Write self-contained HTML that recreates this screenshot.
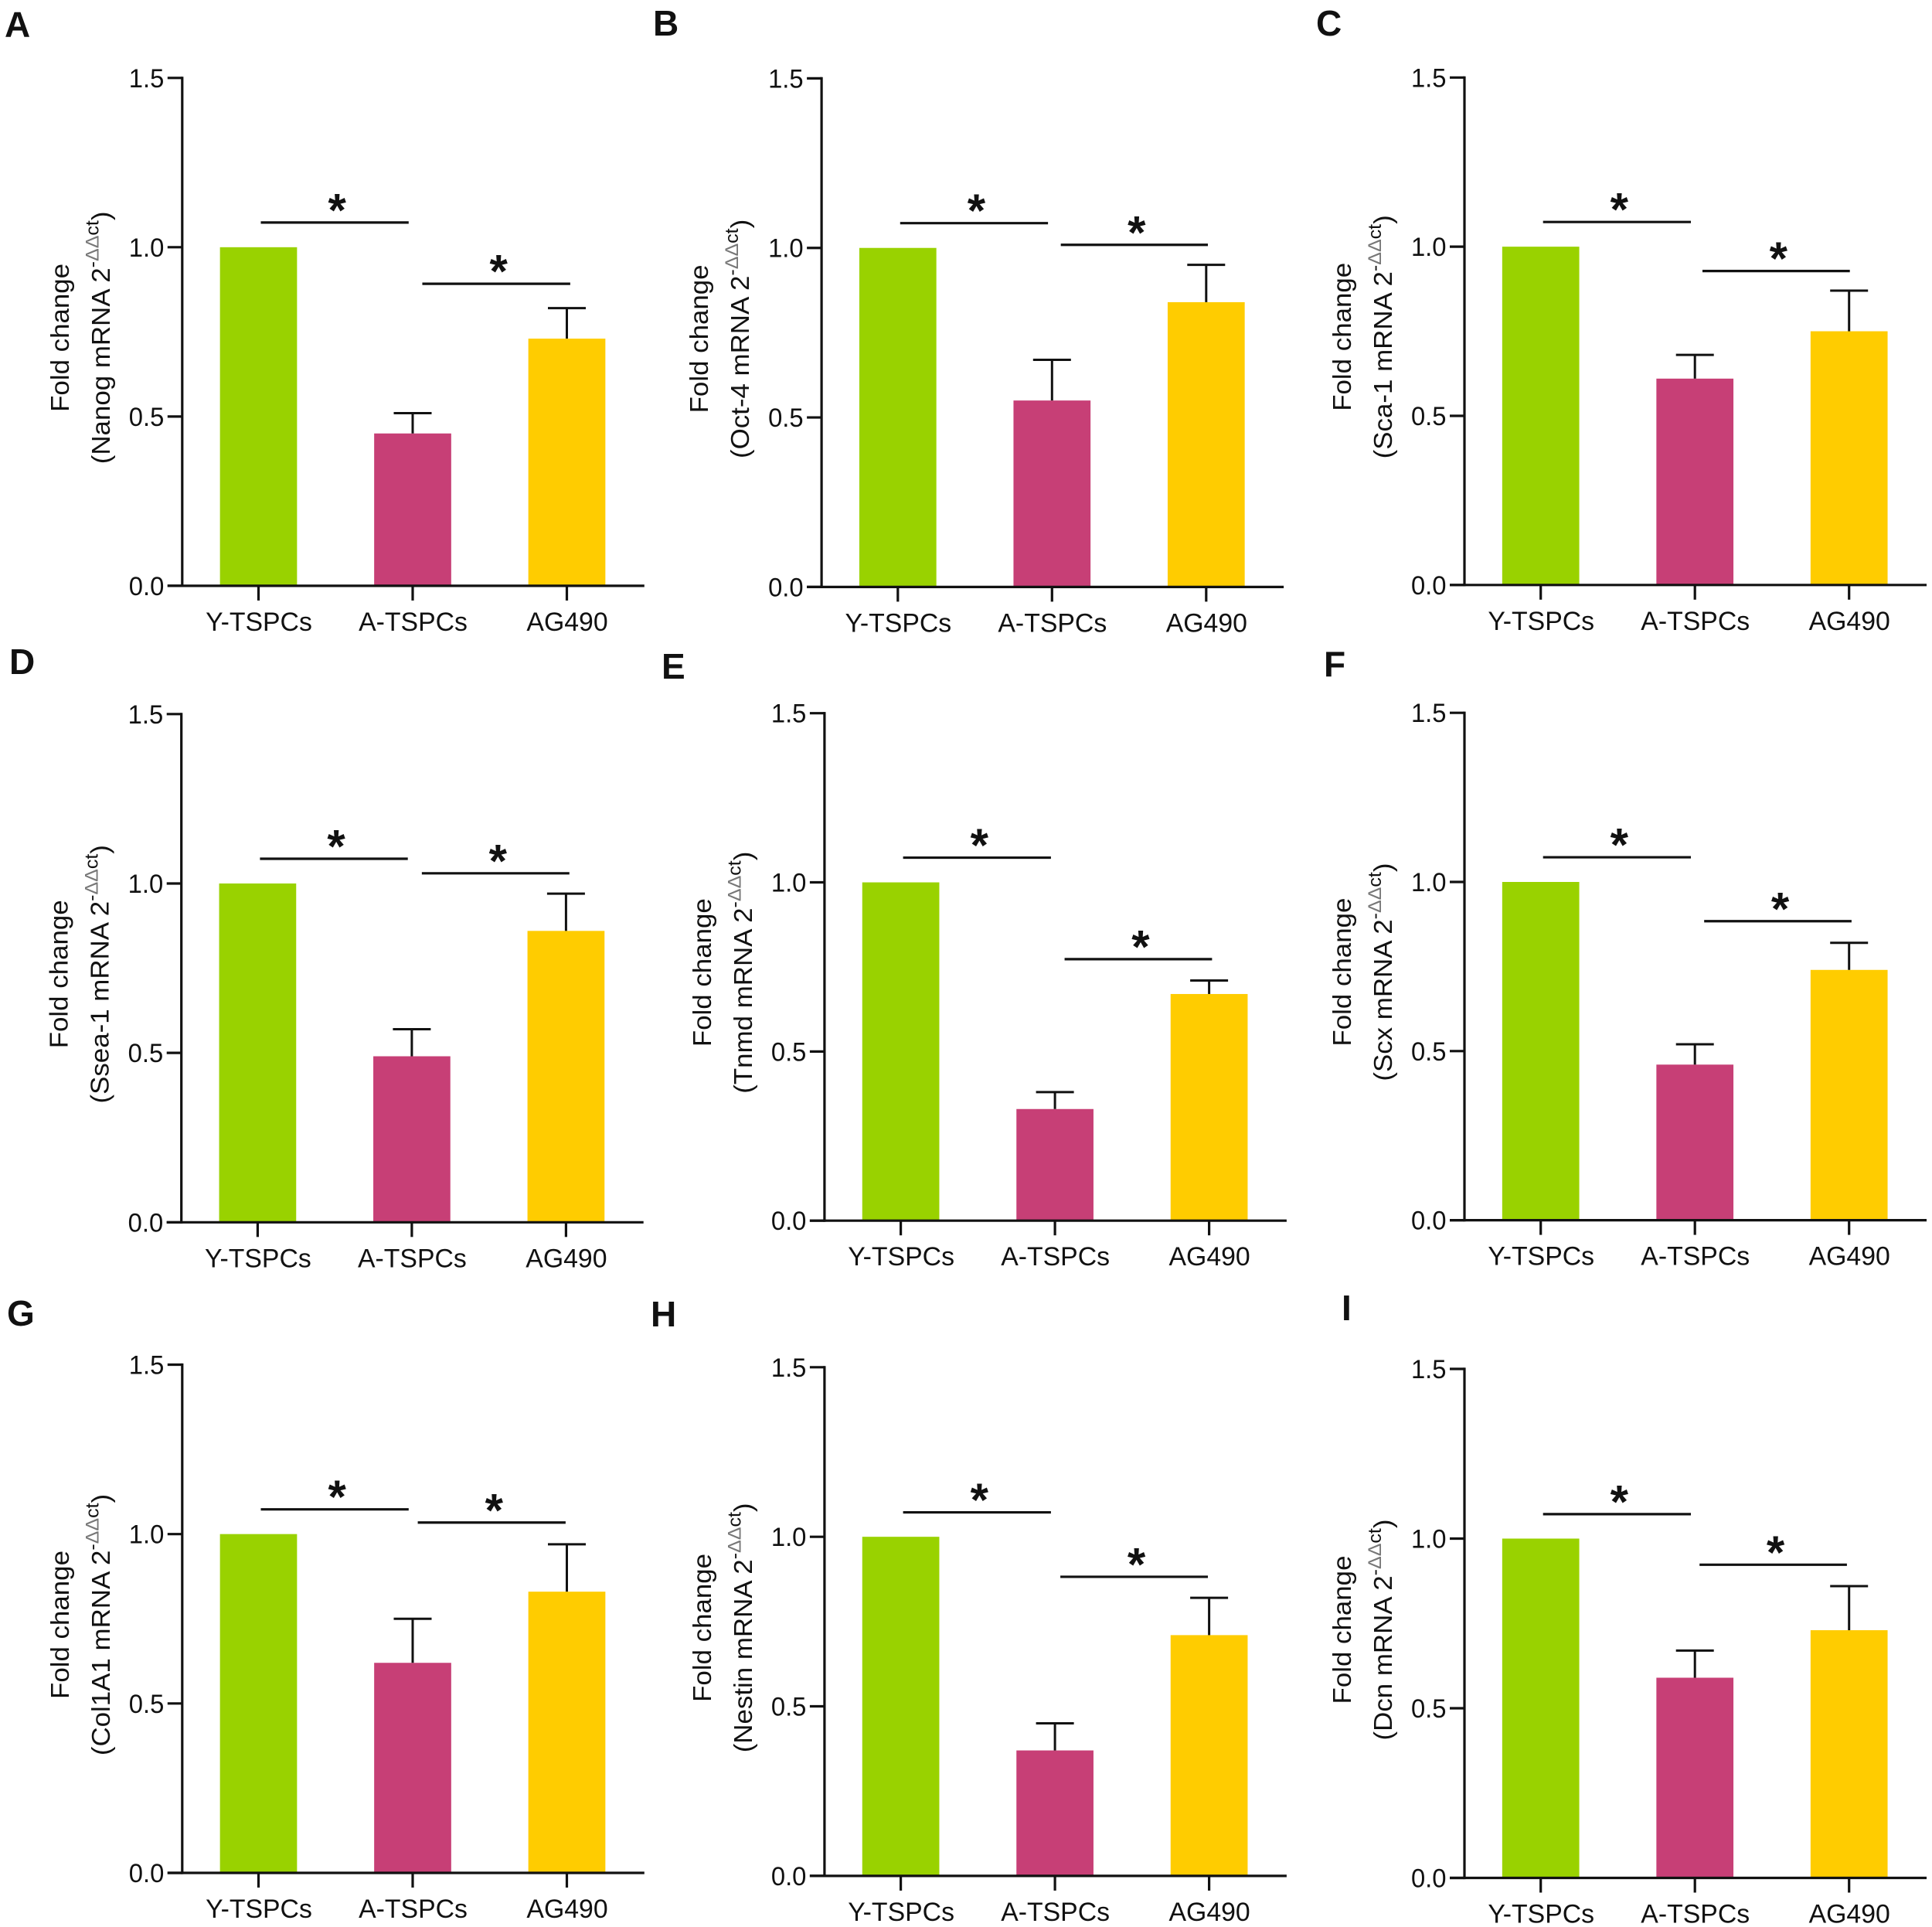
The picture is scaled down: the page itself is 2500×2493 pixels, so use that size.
<!DOCTYPE html>
<html lang="en">
<head>
<meta charset="utf-8">
<title>Fold change of stemness and tenogenic mRNA across TSPC groups</title>
<style>
html,body{margin:0;padding:0;background:#fff;}
svg{display:block;}
text{font-family:"Liberation Sans",Arial,sans-serif;fill:#111;}
</style>
</head>
<body>
<svg id="figure" xmlns="http://www.w3.org/2000/svg" width="2500" height="2493" viewBox="0 0 2500 2493"></svg>
<script>
const categories = ['Y-TSPCs', 'A-TSPCs', 'AG490'];
const tickValues = [0, 0.5, 1, 1.5];
const tickLabels = ['0.0', '0.5', '1.0', '1.5'];
const genes = ['Nanog', 'Oct-4', 'Sca-1', 'Ssea-1', 'Tnmd', 'Scx', 'Col1A1', 'Nestin', 'Dcn'];
const panelLetters = ['A', 'B', 'C', 'D', 'E', 'F', 'G', 'H', 'I'];

const nanogValues = [1, 0.45, 0.73];
const nanogErrors = [0, 0.06, 0.09];
const oct4Values = [1, 0.55, 0.84];
const oct4Errors = [0, 0.12, 0.11];
const sca1Values = [1, 0.61, 0.75];
const sca1Errors = [0, 0.07, 0.12];
const ssea1Values = [1, 0.49, 0.86];
const ssea1Errors = [0, 0.08, 0.11];
const tnmdValues = [1, 0.33, 0.67];
const tnmdErrors = [0, 0.05, 0.04];
const scxValues = [1, 0.46, 0.74];
const scxErrors = [0, 0.06, 0.08];
const col1a1Values = [1, 0.62, 0.83];
const col1a1Errors = [0, 0.13, 0.14];
const nestinValues = [1, 0.37, 0.71];
const nestinErrors = [0, 0.08, 0.11];
const dcnValues = [1, 0.59, 0.73];
const dcnErrors = [0, 0.08, 0.13];

const seriesValues = [nanogValues, oct4Values, sca1Values, ssea1Values, tnmdValues, scxValues, col1a1Values, nestinValues, dcnValues];
const seriesErrors = [nanogErrors, oct4Errors, sca1Errors, ssea1Errors, tnmdErrors, scxErrors, col1a1Errors, nestinErrors, dcnErrors];

/* significance line heights, in axis units */
const sigFirstLevels = [1.073, 1.073, 1.073, 1.073, 1.073, 1.073, 1.073, 1.072, 1.072];
const sigSecondLevels = [0.892, 1.009, 0.928, 1.03, 0.773, 0.884, 1.034, 0.882, 0.923];
/* second significance line start and end, in category units */
const sigSecondStarts = [1.0625, 1.057, 1.049, 1.065, 1.0625, 1.06, 1.033, 1.035, 1.03];
const sigSecondEnds = [2.022, 2.011, 2.005, 2.022, 2.019, 2.016, 1.992, 1.992, 1.986];

/* layout only: [axis x, y at zero, y at top of axis] */
const panelOrigins = [
  [235.8, 757.9, 100.8], [1063.1, 759.4, 101.4], [1895, 756.8, 100.3],
  [234.7, 1581.3, 923.8], [1066.9, 1579.2, 922.7], [1895, 1578.6, 922.2],
  [235.8, 2423, 1765.5], [1066.9, 2426.9, 1768.8], [1895, 2429.5, 1771]
];
const letterAnchors = [
  [6, 47.7], [845, 46], [1703, 46],
  [12, 872], [856, 878], [1713, 875],
  [9, 1715], [842, 1716], [1736, 1708]
];
const barColors = ['#99D200', '#C73F76', '#FFCC00'];

const NS = 'http://www.w3.org/2000/svg';
const svg = document.getElementById('figure');
const AXIS_MAX = 1.5;
const CATEGORY_STEP = 199.5;
const FIRST_CATEGORY = 98.7;
const BAR_WIDTH = 99.7;
const CAP_WIDTH = 49;
const INK = '#111';

function make(tag, attrs, parent) {
  const el = document.createElementNS(NS, tag);
  for (const k in attrs) { el.setAttribute(k, attrs[k]); }
  parent.appendChild(el);
  return el;
}
function xScale(origin, position) {
  return origin[0] + FIRST_CATEGORY + position * CATEGORY_STEP;
}
function yScale(origin, value) {
  return origin[1] - (value / AXIS_MAX) * (origin[1] - origin[2]);
}
function line(parent, x1, y1, x2, y2, width) {
  return make('line', {x1: x1, y1: y1, x2: x2, y2: y2, stroke: INK, 'stroke-width': width}, parent);
}

panelLetters.forEach(function (letter, p) {
  const origin = panelOrigins[p];
  const values = seriesValues[p];
  const errors = seriesErrors[p];

  const g = make('g', {}, svg);
  
  

  const panelLabel = make('text', {x: letterAnchors[p][0], y: letterAnchors[p][1], 'font-size': 46, 'font-weight': 'bold'}, g);
  panelLabel.textContent = letter;
  
  

  values.forEach(function (value, c) {
    const cx = xScale(origin, c);
    const top = yScale(origin, value);
    const bar = make('rect', {x: cx - BAR_WIDTH / 2, y: top, width: BAR_WIDTH, height: origin[1] - top, fill: barColors[c]}, g);
    
    

    if (errors[c] > 0) {
      const errTop = yScale(origin, value + errors[c]);
      const stem = line(g, cx, top, cx, errTop, 3);
      
      
      const cap = line(g, cx - CAP_WIDTH / 2, errTop, cx + CAP_WIDTH / 2, errTop, 3);
      
      
    }

    const tick = line(g, cx, origin[1], cx, origin[1] + 19, 3.2);
    
    

    const catLabel = make('text', {'text-anchor': 'middle', 'font-size': 34.5, transform: 'translate(' + (cx + 0.5) + ',' + (origin[1] + 58) + ') scale(.98,1)'}, g);
    catLabel.textContent = categories[c];
    
    
  });

  tickValues.forEach(function (value, t) {
    const y = yScale(origin, value);
    const tick = line(g, origin[0] - 19, y, origin[0], y, 3.2);
    
    
    const label = make('text', {'text-anchor': 'end', 'font-size': 34.5, transform: 'translate(' + (origin[0] - 23.5) + ',' + (y + 12) + ') scale(.95,1)'}, g);
    label.textContent = tickLabels[t];
    
    
  });

  const yAxis = line(g, origin[0], yScale(origin, AXIS_MAX) - 1.6, origin[0], origin[1] + 1.6, 3.2);
  
  
  const xAxis = line(g, origin[0] - 19, origin[1], origin[0] + 598, origin[1], 3.2);
  
  

  const titleY = origin[1] - 321;
  const titleOne = make('text', {'text-anchor': 'middle', 'font-size': 34.9, transform: 'translate(' + (origin[0] - 147) + ',' + titleY + ') rotate(-90) scale(1,.95)'}, g);
  titleOne.textContent = 'Fold change';
  
  

  const titleTwo = make('text', {'text-anchor': 'middle', 'font-size': 34.9, transform: 'translate(' + (origin[0] - 94) + ',' + titleY + ') rotate(-90) scale(1,.95)'}, g);
  
  
  make('tspan', {}, titleTwo).textContent = '(' + genes[p] + ' mRNA 2';
  make('tspan', {'font-size': 25, dy: -15}, titleTwo).textContent = '-';
  make('tspan', {'font-size': 25, style: 'fill:#777'}, titleTwo).textContent = '\u0394\u0394';
  make('tspan', {'font-size': 25}, titleTwo).textContent = 'ct';
  make('tspan', {dy: 15}, titleTwo).textContent = ')';

  [[0.015, 0.974, sigFirstLevels[p]], [sigSecondStarts[p], sigSecondEnds[p], sigSecondLevels[p]]].forEach(function (sig) {
    const x1 = xScale(origin, sig[0]);
    const x2 = xScale(origin, sig[1]);
    const y = yScale(origin, sig[2]);
    const sigLine = line(g, x1, y, x2, y, 3.2);
    
    
    const star = make('text', {x: (x1 + x2) / 2 + 3, y: y + 4.5, 'text-anchor': 'middle', 'font-size': 60, 'font-weight': 'bold'}, g);
    star.textContent = '*';
    
    
  });
});
</script>
</body>
</html>
